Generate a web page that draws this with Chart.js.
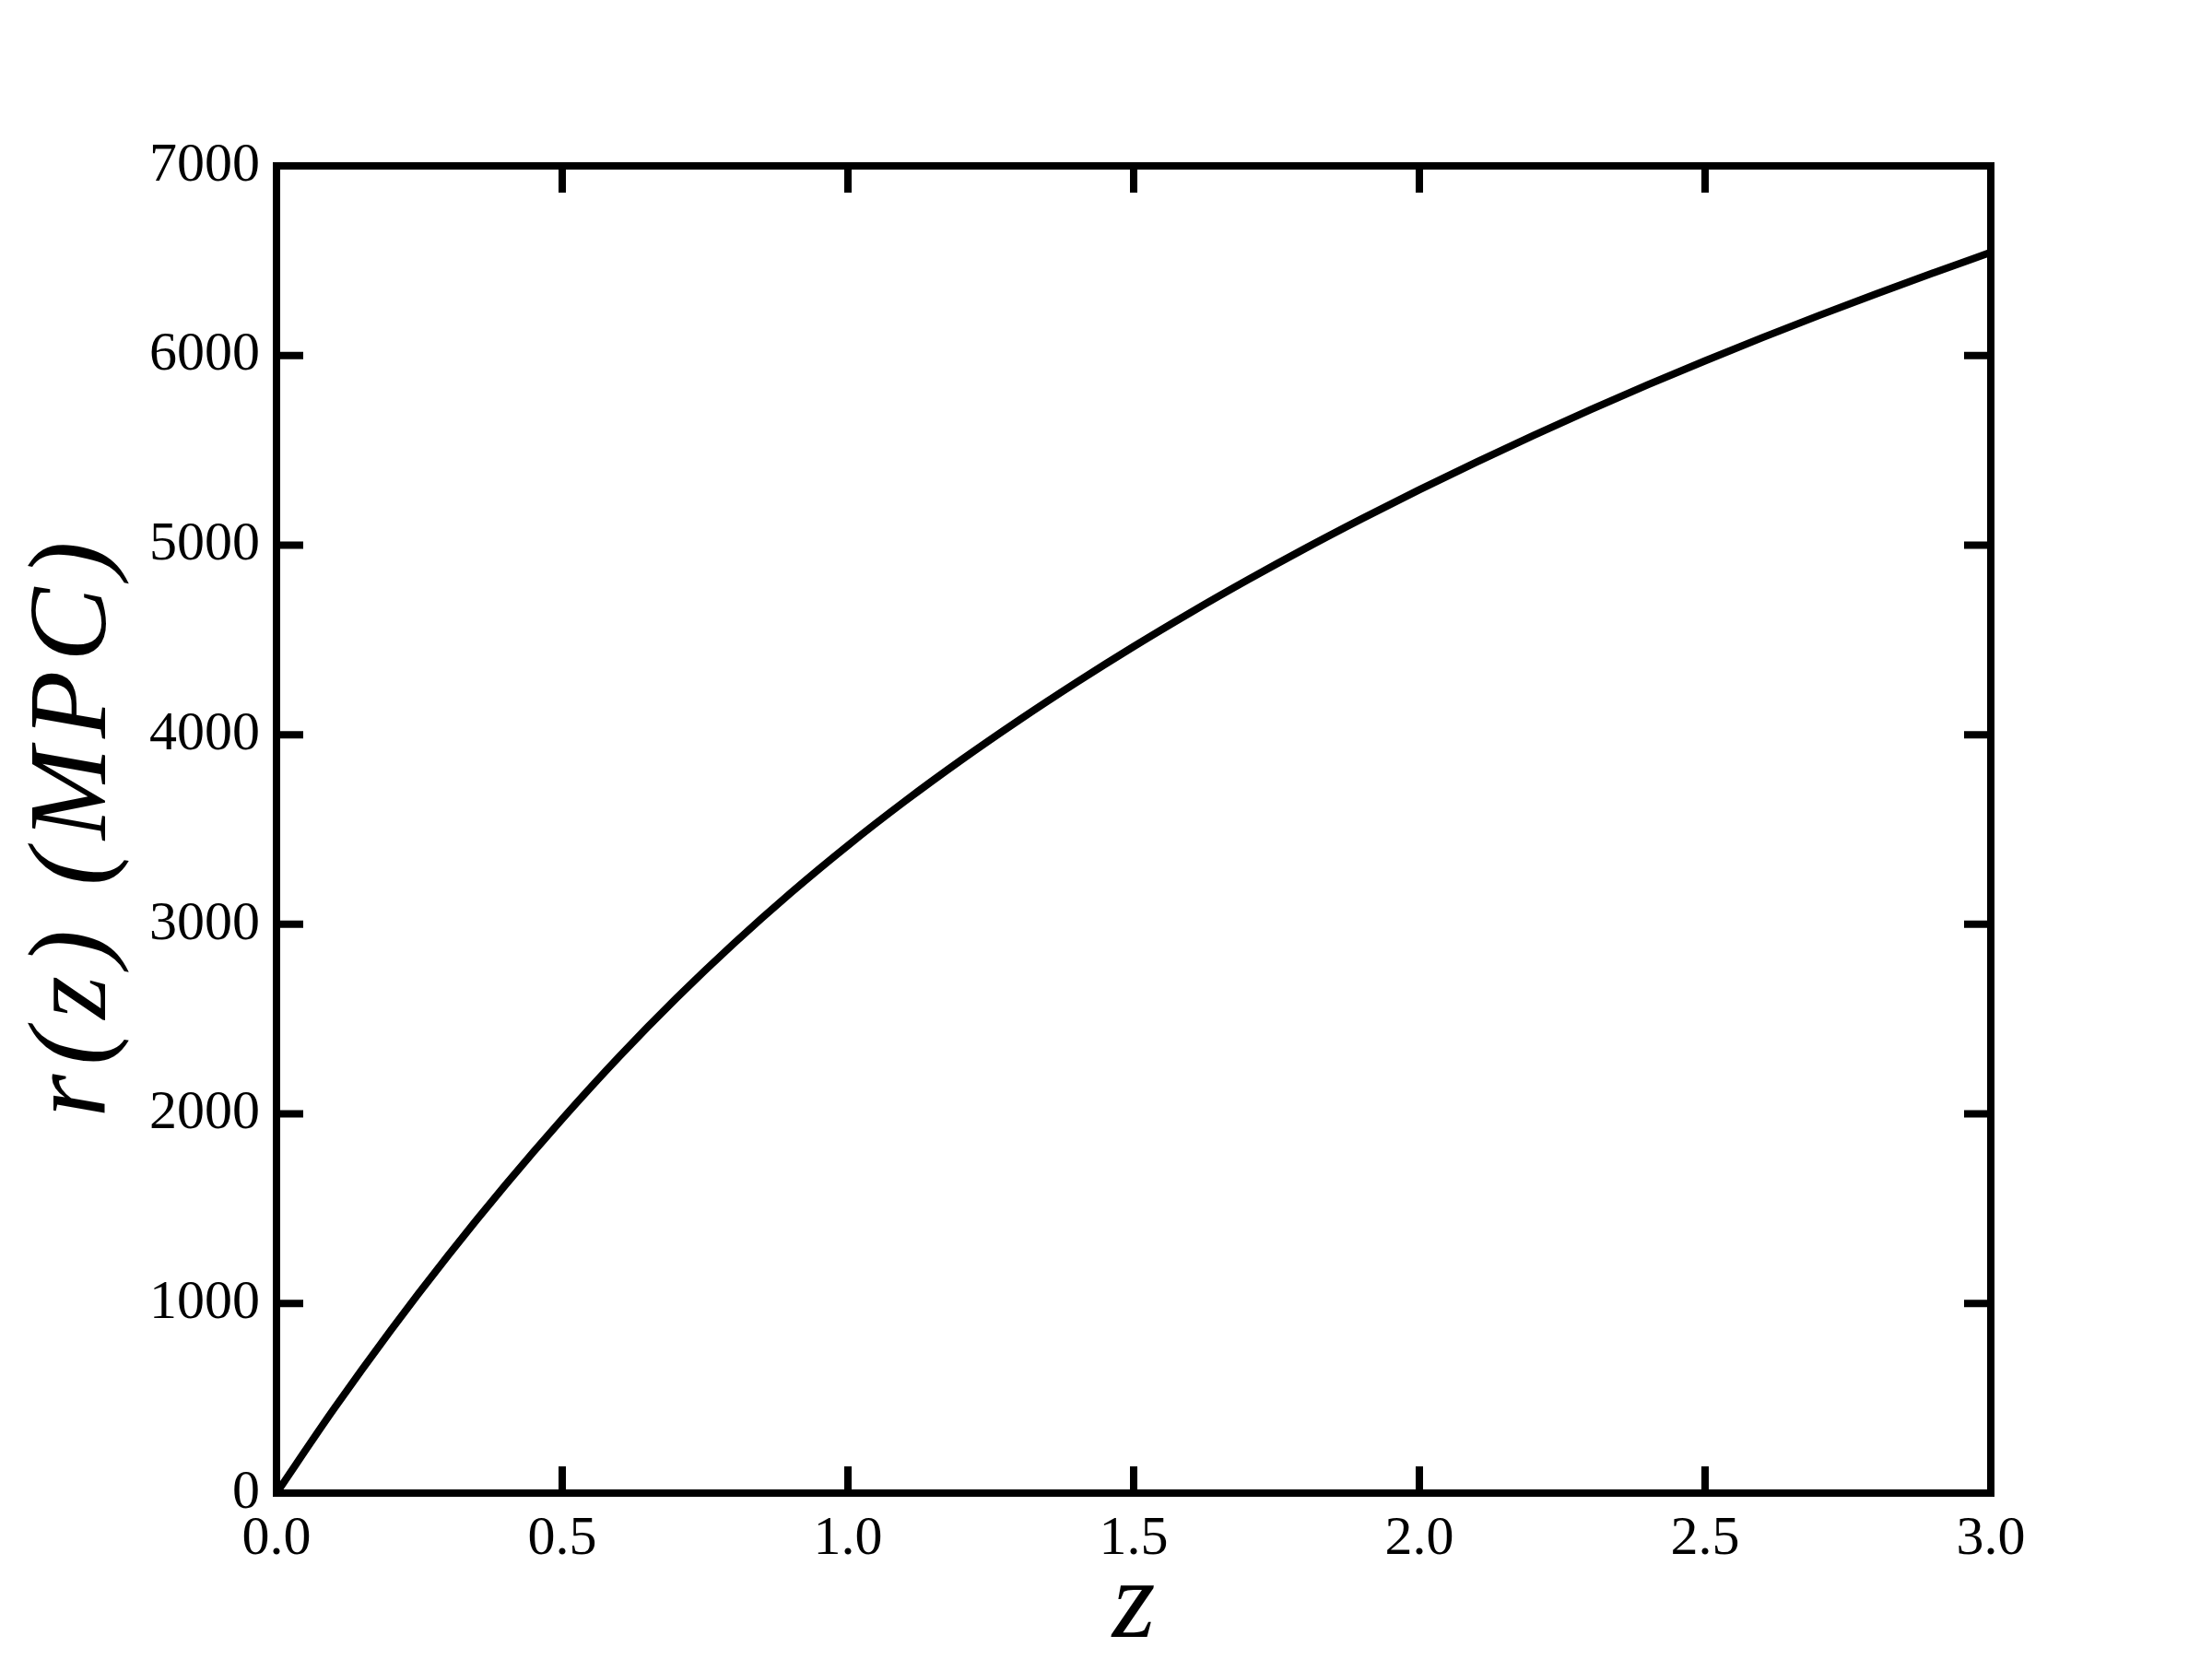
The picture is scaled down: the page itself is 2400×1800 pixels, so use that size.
<!DOCTYPE html>
<html>
<head>
<meta charset="utf-8">
<script src="https://cdn.jsdelivr.net/npm/chart.js@4/dist/chart.umd.min.js"></script>
<style>
  html, body { margin: 0; padding: 0; background: #fff; }
  #chart { display: block; }
</style>
</head>
<body>
<canvas id="chart" width="2400" height="1800"></canvas>
<script>
// redshift z and comoving distance r(z) in Mpc
const zValues = [0.0, 0.1, 0.2, 0.3, 0.4, 0.5, 0.6, 0.7, 0.8, 0.9, 1.0,
                 1.1, 1.2, 1.3, 1.4, 1.5, 1.6, 1.7, 1.8, 1.9, 2.0,
                 2.1, 2.2, 2.3, 2.4, 2.5, 2.6, 2.7, 2.8, 2.9, 3.0];
const rValues = [0, 442, 859, 1252, 1623, 1973, 2303, 2611, 2898, 3166, 3416,
                 3650, 3870, 4078, 4276, 4465, 4645, 4817, 4982, 5140, 5292,
                 5438, 5579, 5715, 5846, 5972, 6094, 6212, 6326, 6436, 6544];

const xTicks = [0.0, 0.5, 1.0, 1.5, 2.0, 2.5, 3.0];
const yTicks = [0, 1000, 2000, 3000, 4000, 5000, 6000, 7000];

const xTitle = 'z';
const yTitle = 'r\u200A(\u200Az\u200A)\u2009\u2009(\u200AM\u200AP\u200AC\u200A)';

const points = zValues.map((z, i) => ({ x: z, y: rValues[i] }));

// black box around the plot with inward ticks on all four sides
const framePlugin = {
  id: 'frame',
  afterDatasetsDraw(chart) {
    const { ctx, chartArea: a, scales: { x, y } } = chart;
    const len = 29;
    ctx.save();
    ctx.strokeStyle = '#000';
    ctx.lineWidth = 8;
    ctx.lineCap = 'butt';
    ctx.beginPath();
    xTicks.forEach(v => {
      const px = x.getPixelForValue(v);
      ctx.moveTo(px, a.bottom); ctx.lineTo(px, a.bottom - len);
      ctx.moveTo(px, a.top); ctx.lineTo(px, a.top + len);
    });
    yTicks.forEach(v => {
      const py = y.getPixelForValue(v);
      ctx.moveTo(a.left, py); ctx.lineTo(a.left + len, py);
      ctx.moveTo(a.right, py); ctx.lineTo(a.right - len, py);
    });
    ctx.stroke();
    ctx.lineJoin = 'miter';
    ctx.strokeRect(a.left, a.top, a.right - a.left, a.bottom - a.top);
    ctx.restore();
  }
};

const tickFont = { family: '"Liberation Serif", "Times New Roman", serif', size: 60 };
const titleFont = { family: '"Liberation Serif", "Times New Roman", serif', size: 120, style: 'italic', lineHeight: 1 };

new Chart(document.getElementById('chart'), {
  type: 'line',
  data: {
    datasets: [{
      data: points,
      borderColor: '#000',
      borderWidth: 8,
      pointRadius: 0,
      fill: false,
      cubicInterpolationMode: 'monotone'
    }]
  },
  options: {
    responsive: false,
    devicePixelRatio: 1,
    animation: false,
    layout: { padding: { top: 180, right: 240, left: 0, bottom: 0 } },
    plugins: { legend: { display: false }, tooltip: { enabled: false } },
    scales: {
      x: {
        type: 'linear',
        min: 0, max: 3,
        afterBuildTicks: s => { s.ticks = xTicks.map(v => ({ value: v })); },
        afterFit: s => { s.height = 180; },
        grid: { display: false, drawTicks: false },
        border: { display: false },
        ticks: {
          color: '#000', font: tickFont, padding: 14, maxRotation: 0, autoSkip: false,
          callback: v => Number(v).toFixed(1)
        },
        title: { display: true, text: xTitle, color: '#000', font: titleFont, padding: { top: 0, bottom: -4 } }
      },
      y: {
        type: 'linear',
        min: 0, max: 7000,
        afterBuildTicks: s => { s.ticks = yTicks.map(v => ({ value: v })); },
        afterFit: s => { s.width = 300; },
        grid: { display: false, drawTicks: false },
        border: { display: false },
        ticks: {
          color: '#000', font: tickFont, padding: 18, autoSkip: false,
          callback: v => String(v)
        },
        title: { display: true, text: yTitle, color: '#000', font: titleFont, padding: { top: 22, bottom: 0 } }
      }
    }
  },
  plugins: [framePlugin]
});
</script>
</body>
</html>
